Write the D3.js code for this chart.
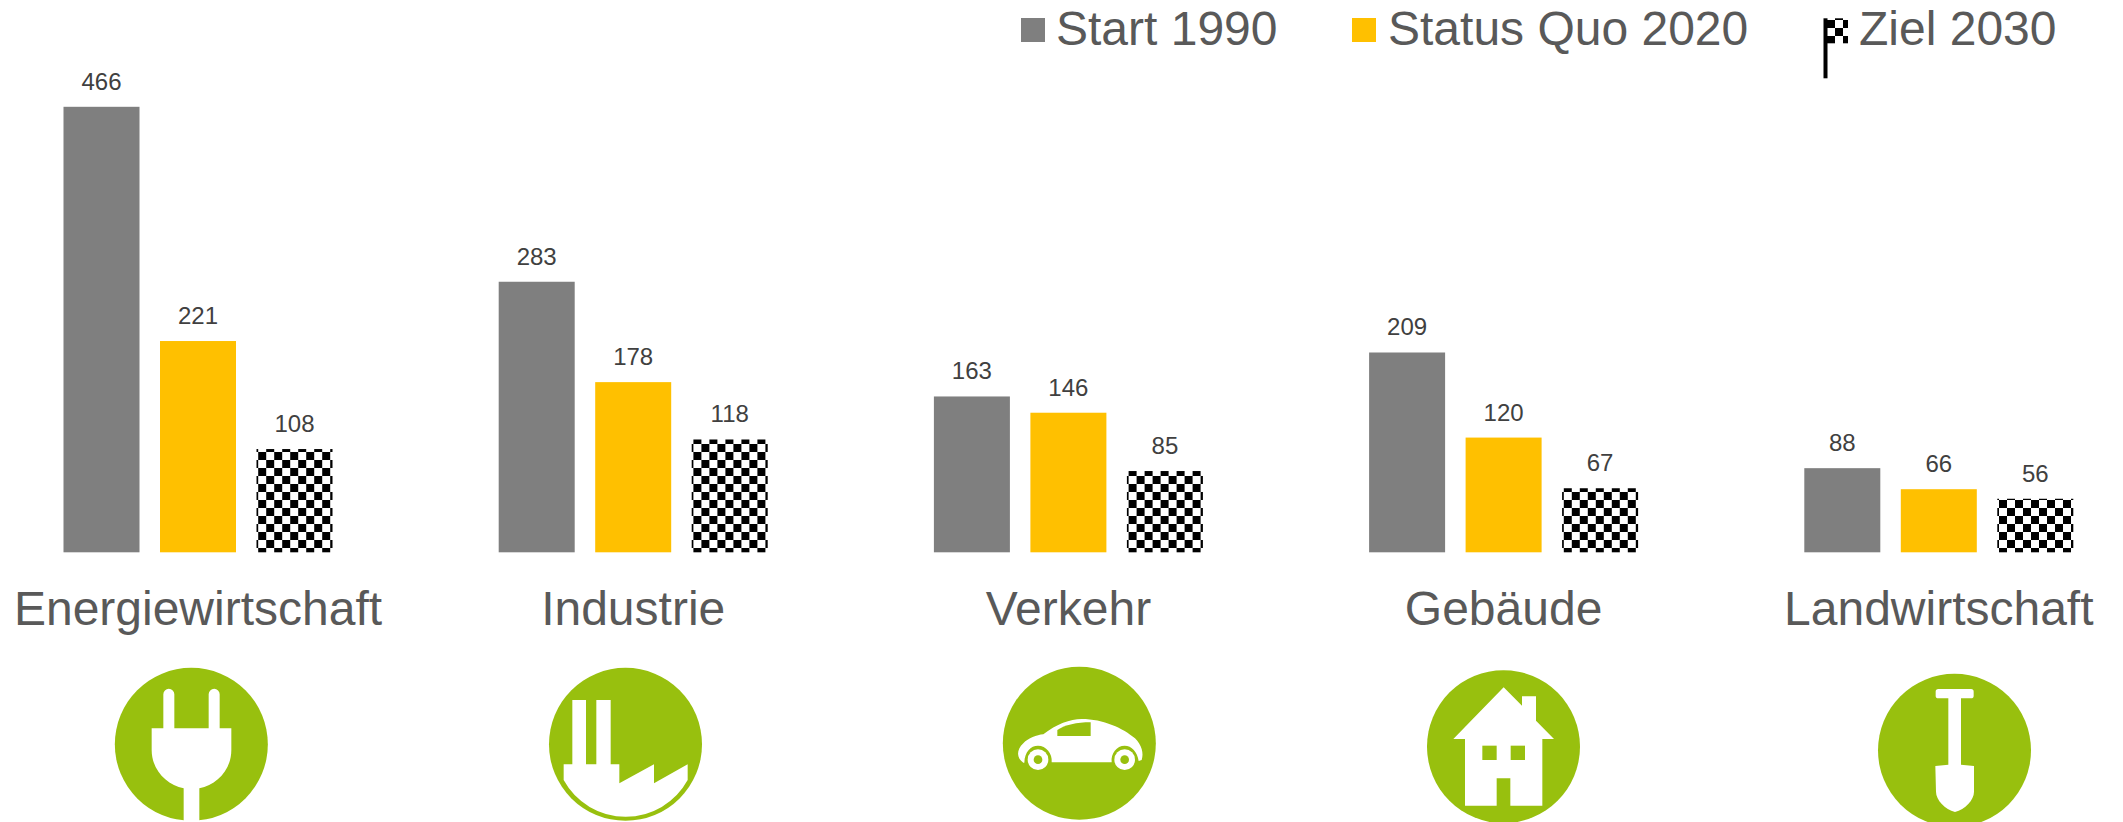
<!DOCTYPE html>
<html><head><meta charset="utf-8">
<script src="https://cdnjs.cloudflare.com/ajax/libs/d3/7.8.5/d3.min.js"></script>
<style>html,body{margin:0;padding:0;background:#fff;overflow:hidden}svg{display:block}text{font-family:"Liberation Sans",Arial,sans-serif}</style>
</head><body><svg id="c" width="2123" height="822"></svg>
<script>
const categories = ["Energiewirtschaft","Industrie","Verkehr","Gebäude","Landwirtschaft"];
const seriesNames = ["Start 1990","Status Quo 2020","Ziel 2030"];
const start1990 = [466,283,163,209,88];
const statusQuo2020 = [221,178,146,120,66];
const ziel2030 = [108,118,85,67,56];
const seriesValues = [start1990,statusQuo2020,ziel2030];

const GREEN="#98C00E", GRAY="#7F7F7F", YELLOW="#FFC000", LABEL="#404040", TEXT="#595959";
const svg=d3.select("#c");
const defs=svg.append("defs");
function checker(id,px,py){
  const p=defs.append("pattern").attr("id",id).attr("patternUnits","userSpaceOnUse")
    .attr("width",16).attr("height",16).attr("x",px).attr("y",py);
  p.append("rect").attr("width",16).attr("height",16).attr("fill","#fff");
  p.append("rect").attr("width",8).attr("height",8).attr("fill","#000");
  p.append("rect").attr("x",8).attr("y",8).attr("width",8).attr("height",8).attr("fill","#000");
}
checker("chk",2.7,4);
checker("flag",1827,20);
const fills=[GRAY,YELLOW,"url(#chk)"];

const x0=d3.scaleBand().domain(categories).range([-19.6,2156.4]);
const x1=d3.scaleBand().domain(d3.range(3)).range([0,269]).paddingInner(20.5/96.5).paddingOuter(0);
const y=d3.scaleLinear().domain([0,466]).range([552.3,106.8]);

const groups=svg.selectAll("g.group").data(categories).join("g").attr("class","group")
  .attr("transform",c=>`translate(${x0(c)+x0.bandwidth()/2-134.5},0)`);
groups.each(function(c,i){
  const g=d3.select(this);
  const rows=seriesValues.map((s,k)=>({k,v:s[i]}));
  g.selectAll("rect").data(rows).join("rect")
    .attr("x",d=>x1(d.k)).attr("width",x1.bandwidth())
    .attr("y",d=>y(d.v)).attr("height",d=>y(0)-y(d.v))
    .attr("fill",d=>fills[d.k]);
  g.selectAll("text").data(rows).join("text")
    .attr("x",d=>x1(d.k)+x1.bandwidth()/2).attr("y",d=>y(d.v)-17)
    .attr("text-anchor","middle").attr("font-size",24).attr("fill",LABEL).text(d=>d.v);
});
svg.selectAll("text.cat").data(categories).join("text").attr("class","cat")
  .attr("x",c=>x0(c)+x0.bandwidth()/2).attr("y",624.5)
  .attr("text-anchor","middle").attr("font-size",48).attr("fill",TEXT).text(c=>c);

// legend
const legendX=[1021,1352], legendTextX=[1056,1388,1859];
seriesNames.forEach((n,i)=>{
  svg.append("text").attr("x",legendTextX[i]).attr("y",45).attr("font-size",48).attr("fill",TEXT).text(n);
  if(i<2) svg.append("rect").attr("x",legendX[i]).attr("y",18).attr("width",24).attr("height",24).attr("fill",fills[i]);
});
svg.append("rect").attr("x",1827).attr("y",18.3).attr("width",21).attr("height",25).attr("fill","url(#flag)");
svg.append("rect").attr("x",1823.5).attr("y",18.3).attr("width",4).attr("height",60).attr("fill","#000");

// icons (authored in a 3x local grid)
const iconFrames=[
 {ox:90,oy:650,cx:304,cy:283},
 {ox:520,oy:650,cx:316.5,cy:283},
 {ox:960,oy:650,cx:358,cy:280},
 {ox:1390,oy:650,cx:340.5,cy:290},
 {ox:1850,oy:650,cx:313.5,cy:301}];
const iconDraw=[
 g=>{
  g.append("path").attr("fill","#fff").attr("d","M185,235 H220 V133 A16.5,16.5 0 0 1 253,133 V235 H356 V133 A16.5,16.5 0 0 1 389,133 V235 H424 V300 C424,360 380,405 328,415 V520 H281 V415 C230,405 185,360 185,300 Z");
 },
 g=>{
  g.append("path").attr("fill","#fff").attr("d","M131,343 H157 V150 H198 V343 H229 V150 H272 V343 H298 V400 L402,343 V400 L503,343 V390 A212,212 0 0 1 131,390 Z");
 },
 g=>{
  g.append("path").attr("fill","#fff").attr("d","M190,338 C170,325 168,300 190,280 C205,264 230,255 250,253 C290,222 330,207 365,207 C430,207 490,235 525,265 C545,285 552,310 545,330 L536,333 C532,305 515,287 494,287 C470,287 452,310 455,337 L275,337 C278,310 258,287 234,287 C212,287 194,305 193,338 Z");
  g.append("path").attr("fill",GREEN).attr("d","M292,258 V240 C315,225 350,217 392,217 V258 Z");
  [234,494].forEach(cx=>{
    g.append("circle").attr("cx",cx).attr("cy",329).attr("r",31).attr("fill","#fff");
    g.append("circle").attr("cx",cx).attr("cy",329).attr("r",13).attr("fill",GREEN);
  });
 },
 g=>{
  g.append("path").attr("fill","#fff").attr("d","M190,267 L341,112 L396,167 V139 H438 V212 L492,267 H457 V467 H361 V385 H320 V467 H225 V267 Z");
  [277,362].forEach(wx=>g.append("rect").attr("x",wx).attr("y",287).attr("width",43).attr("height",43).attr("fill",GREEN));
 },
 g=>{
  g.append("rect").attr("x",257).attr("y",117).attr("width",114).attr("height",28).attr("rx",8).attr("fill","#fff");
  g.append("path").attr("fill","#fff").attr("d","M295,140 H333 V344 L372,348 V425 C372,450 345,478 315,486 C285,478 258,450 258,425 L256,348 L295,344 Z");
 }];
iconFrames.forEach((f,i)=>{
  const g=svg.append("g").attr("transform",`translate(${f.ox},${f.oy}) scale(${1/3})`);
  g.append("circle").attr("cx",f.cx).attr("cy",f.cy).attr("r",229.5).attr("fill",GREEN);
  iconDraw[i](g);
});
</script></body></html>
